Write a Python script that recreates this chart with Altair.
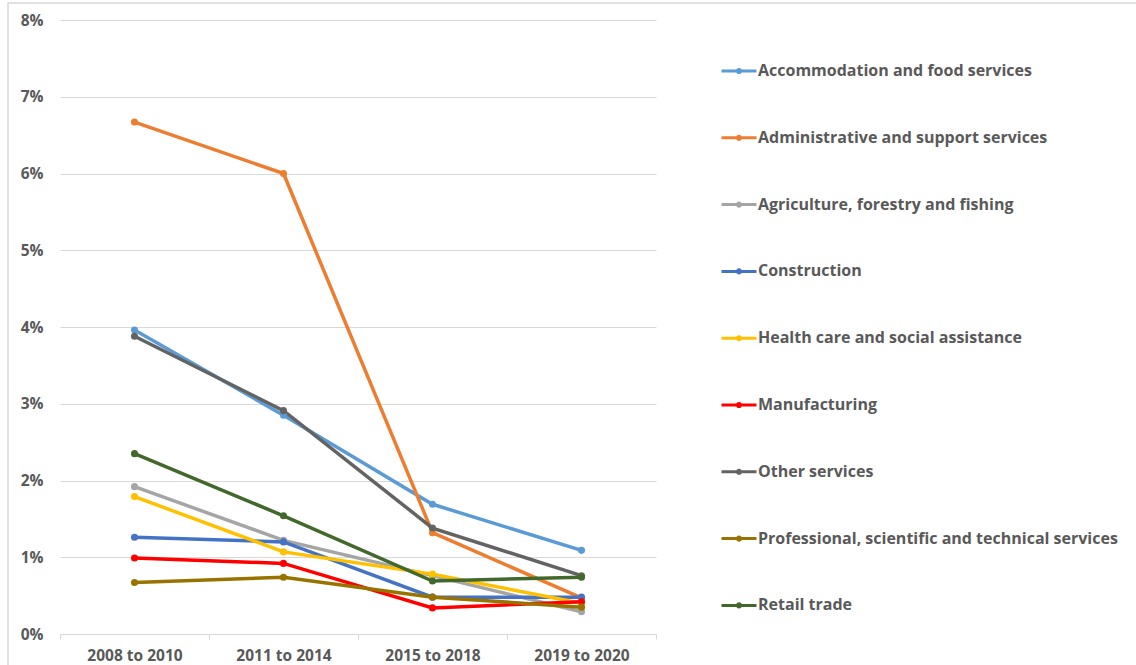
import altair as alt
import pandas as pd

# Periods on the category axis
periods = ["2008 to 2010", "2011 to 2014", "2015 to 2018", "2019 to 2020"]

# Industry series (share, as a fraction)
accommodation = [0.0396, 0.0285, 0.0169, 0.0109]
administrative = [0.0667, 0.0600, 0.0132, 0.0047]
agriculture = [0.0192, 0.0122, 0.0076, 0.0029]
construction = [0.0126, 0.0120, 0.0048, 0.0048]
health_care = [0.0179, 0.0107, 0.0078, 0.0040]
manufacturing = [0.0099, 0.0092, 0.0034, 0.0042]
other_services = [0.0388, 0.0291, 0.0138, 0.0076]
professional = [0.0067, 0.0074, 0.0048, 0.0035]
retail = [0.0235, 0.0154, 0.0069, 0.0074]

industries = [
    "Accommodation and food services",
    "Administrative and support services",
    "Agriculture, forestry and fishing",
    "Construction",
    "Health care and social assistance",
    "Manufacturing",
    "Other services",
    "Professional, scientific and technical services",
    "Retail trade",
]
series = [accommodation, administrative, agriculture, construction, health_care,
          manufacturing, other_services, professional, retail]
colors = ["#5B9BD5", "#ED7D31", "#A5A5A5", "#4472C4", "#FFC000",
          "#FF0000", "#636363", "#997300", "#43682B"]
y_ticks = [0, 0.01, 0.02, 0.03, 0.04, 0.05, 0.06, 0.07, 0.08]

rows = []
for name, vals in zip(industries, series):
    for p, v in zip(periods, vals):
        rows.append({"Industry": name, "Period": p, "Share": v})
df = pd.DataFrame(rows)

FONT = "Open Sans"
TEXT = "#595959"
GRID = "#D9D9D9"

# Legend glyph: a short line with a small marker in its middle
LINE_WITH_DOT = "M-1,0H1M-0.09,0a0.09,0.09 0 1,0 0.18,0a0.09,0.09 0 1,0 -0.18,0"

x_enc = alt.X(
    "Period:N",
    sort=periods,
    title=None,
    bandPosition=0.5,
    scale=alt.Scale(type="band", paddingInner=0, paddingOuter=0),
    axis=alt.Axis(
        labelAngle=0, labelFont=FONT, labelFontWeight="bold", labelFontSize=15.5,
        labelColor=TEXT, labelPadding=9, tickBand="extent", ticks=True,
        tickColor=GRID, tickSize=5, domainColor=GRID, grid=False,
    ),
)
y_enc = alt.Y(
    "Share:Q",
    title=None,
    scale=alt.Scale(domain=[0, 0.08], nice=False),
    axis=alt.Axis(
        values=y_ticks, format=".0%", labelFont=FONT, labelFontWeight="bold",
        labelFontSize=15.5, labelColor=TEXT, labelPadding=17, ticks=False,
        domain=False, gridColor=GRID, gridWidth=1,
    ),
)
color_enc = alt.Color(
    "Industry:N",
    sort=industries,
    scale=alt.Scale(domain=industries, range=colors),
    legend=alt.Legend(
        title=None, orient="none", legendX=660, legendY=32,
        symbolType=LINE_WITH_DOT, symbolSize=1225, symbolStrokeWidth=3,
        labelFont=FONT, labelFontWeight="bold", labelFontSize=16,
        labelColor=TEXT, labelOffset=0, rowPadding=39.8, labelLimit=420,
    ),
)

lines = alt.Chart(df).mark_line(strokeWidth=3.5).encode(
    x=x_enc, y=y_enc, color=color_enc, order=alt.Order("Period:N")
)
points = alt.Chart(df).mark_point(filled=True, size=50, opacity=1).encode(
    x=alt.X("Period:N", sort=periods, bandPosition=0.5),
    y="Share:Q",
    color=alt.Color("Industry:N", sort=industries, legend=None),
)

# Thin frame around the whole chart area
frame = alt.Chart(pd.DataFrame({"k": [0]})).mark_rect(
    fill=None, stroke=GRID, strokeWidth=1.5, clip=False
).encode(
    x=alt.value(-52), x2=alt.value(1200), y=alt.value(-17), y2=alt.value(700)
)

chart = alt.layer(frame, lines, points).properties(
    width=596,
    height=614,
    autosize=alt.AutoSizeParams(type="none"),
    padding={"left": 60, "top": 20, "right": 480, "bottom": 31},
    background="white",
).configure_view(stroke=None)

chart.save("out.html", embed_options={"renderer": "svg", "actions": False})
